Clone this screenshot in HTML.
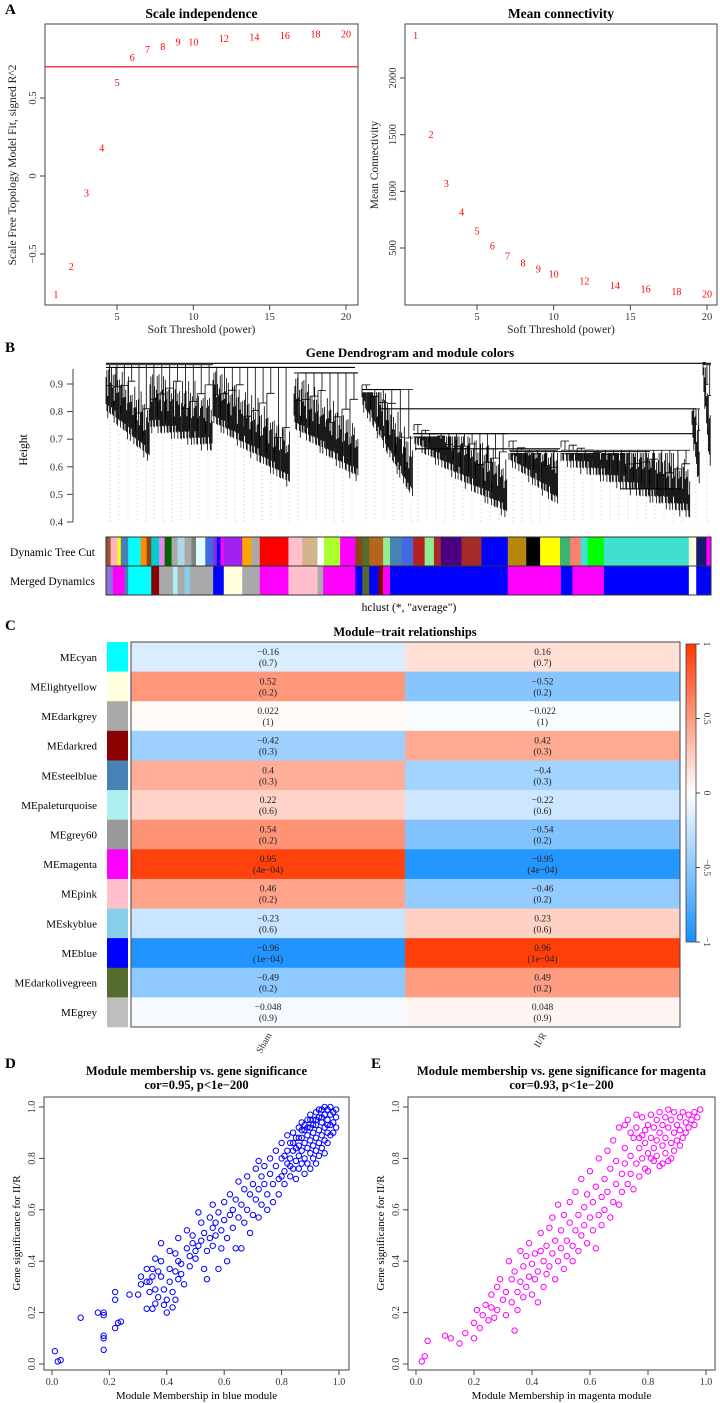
<!DOCTYPE html>
<html><head><meta charset="utf-8">
<style>
html,body{margin:0;padding:0;background:#fff;}
svg{display:block;font-family:"Liberation Serif","DejaVu Serif",serif;}
</style></head>
<body>
<svg id="fig" width="720" height="1403" viewBox="0 0 720 1403" xmlns="http://www.w3.org/2000/svg"></svg>
<script>
// ---------- DATA ----------
const powers = [1,2,3,4,5,6,7,8,9,10,12,14,16,18,20];
const scaleFitR2 = [-0.76,-0.58,-0.11,0.18,0.60,0.76,0.81,0.83,0.86,0.86,0.88,0.89,0.90,0.91,0.91];
const meanConn = [2377,1500,1070,816,649,518,430,368,316,272,210,167,140,114,96];
const r2Threshold = 0.7;
const scaleTicks = [-0.5,0,0.5];
const connTicks = [500,1000,1500,2000];
const powerTicks = [5,10,15,20];
const heightTicks = [0.4,0.5,0.6,0.7,0.8,0.9];

const modules = ["MEcyan","MElightyellow","MEdarkgrey","MEdarkred","MEsteelblue","MEpaleturquoise","MEgrey60","MEmagenta","MEpink","MEskyblue","MEblue","MEdarkolivegreen","MEgrey"];
const moduleColors = ["#00FFFF","#FFFFE0","#A9A9A9","#8B0000","#4682B4","#AFEEEE","#999999","#FF00FF","#FFC0CB","#87CEEB","#0000FF","#556B2F","#BEBEBE"];
const traits = ["Sham","II/R"];
const corSham = [-0.16,0.52,0.022,-0.42,0.4,0.22,0.54,0.95,0.46,-0.23,-0.96,-0.49,-0.048];
const corIR = [0.16,-0.52,-0.022,0.42,-0.4,-0.22,-0.54,-0.95,-0.46,0.23,0.96,0.49,0.048];
const pvals = ["0.7","0.2","1","0.3","0.3","0.6","0.2","4e−04","0.2","0.6","1e−04","0.2","0.9"];
const legendTicks = [1,0.5,0,-0.5,-1];

const dynSegs = [[0,10,"#A0522D"],[10,25,"#FFB6C1"],[25,32,"#FFFF00"],[32,48,"#4682B4"],[48,75,"#00FFFF"],[75,88,"#FF8C00"],[88,98,"#8B4513"],[98,115,"#00CED1"],[115,127,"#EE82EE"],[127,142,"#006400"],[142,155,"#A9A9A9"],[155,170,"#ADD8E6"],[170,185,"#A9A9A9"],[185,195,"#808080"],[195,215,"#E0FFFF"],[215,232,"#4169E1"],[232,240,"#8A2BE2"],[240,248,"#0000FF"],[248,255,"#FF00FF"],[255,295,"#A020F0"],[295,315,"#FFA500"],[315,333,"#A9A9A9"],[333,395,"#FF0000"],[395,425,"#FFC0CB"],[425,458,"#D2B48C"],[458,472,"#FFFFFF"],[472,507,"#ADFF2F"],[507,540,"#FF00FF"],[540,555,"#8B4513"],[555,570,"#556B2F"],[570,600,"#B5651D"],[600,615,"#90EE90"],[615,640,"#4682B4"],[640,665,"#4169E1"],[665,690,"#B22222"],[690,710,"#90EE90"],[710,725,"#A52A2A"],[725,770,"#4B0082"],[770,813,"#A52A2A"],[813,870,"#0000FF"],[870,910,"#B8860B"],[910,940,"#000000"],[940,983,"#FFFF00"],[983,1005,"#3CB371"],[1005,1028,"#FA8072"],[1028,1043,"#40E0D0"],[1043,1078,"#00FF00"],[1078,1262,"#40E0D0"],[1262,1278,"#FFFFE0"],[1278,1300,"#191970"],[1300,1310,"#FF00FF"]];
const mergedSegs = [[0,15,"#9370DB"],[15,40,"#FF00FF"],[40,48,"#4682B4"],[48,98,"#00FFFF"],[98,115,"#8B0000"],[115,145,"#A9A9A9"],[145,155,"#AFEEEE"],[155,170,"#A9A9A9"],[170,182,"#87CEEB"],[182,232,"#A9A9A9"],[232,255,"#0000FF"],[255,295,"#FFFFE0"],[295,333,"#A9A9A9"],[333,395,"#FF00FF"],[395,458,"#FFC0CB"],[458,470,"#A9A9A9"],[470,540,"#FF00FF"],[540,555,"#0000FF"],[555,570,"#556B2F"],[570,590,"#0000FF"],[590,600,"#8B0000"],[600,615,"#FF00FF"],[615,870,"#0000FF"],[870,950,"#FF00FF"],[950,985,"#FF00FF"],[985,1010,"#0000FF"],[1010,1040,"#FF00FF"],[1040,1078,"#FF00FF"],[1078,1262,"#0000FF"],[1262,1278,"#FFFFFF"],[1278,1310,"#0000FF"]];
// clusters: [x0, x1, topHeight, bottomLeft, bottomRight]
const dendroClusters = [[106,150,0.97,0.80,0.62],[150,213,0.97,0.74,0.66],[213,290,0.96,0.76,0.53],[294,358,0.94,0.74,0.55],[362,413,0.88,0.82,0.48],[414,507,0.72,0.68,0.42],[509,558,0.66,0.62,0.46],[561,690,0.66,0.62,0.42],[692,700,0.81,0.72,0.50],[703,711,0.97,0.90,0.55]];
const dendroMerges = [[106,711,0.975],[106,355,0.96],[300,358,0.94],[362,400,0.88],[380,696,0.81],[413,695,0.72],[415,560,0.665],[510,650,0.655],[620,682,0.52]];

const mmBlue = [0.01,0.02,0.03,0.10,0.16,0.18,0.18,0.18,0.18,0.18,0.22,0.22,0.22,0.23,0.24,0.27,0.30,0.31,0.31,0.33,0.33,0.33,0.34,0.34,0.35,0.35,0.35,0.36,0.36,0.36,0.37,0.37,0.38,0.38,0.38,0.39,0.39,0.40,0.40,0.41,0.41,0.41,0.42,0.42,0.43,0.43,0.43,0.44,0.44,0.44,0.45,0.45,0.46,0.47,0.47,0.48,0.48,0.49,0.49,0.50,0.50,0.51,0.51,0.52,0.52,0.53,0.53,0.54,0.54,0.55,0.55,0.56,0.56,0.56,0.57,0.57,0.58,0.58,0.59,0.59,0.60,0.60,0.61,0.61,0.62,0.62,0.63,0.63,0.64,0.64,0.65,0.65,0.66,0.66,0.67,0.67,0.68,0.68,0.69,0.69,0.70,0.70,0.71,0.71,0.72,0.72,0.72,0.73,0.73,0.74,0.74,0.75,0.75,0.76,0.76,0.77,0.77,0.78,0.78,0.79,0.79,
0.80,0.80,0.81,0.81,0.82,0.82,0.82,0.83,0.83,0.83,0.84,0.84,0.84,0.85,0.85,0.85,0.86,0.86,0.86,0.86,0.87,0.87,0.87,0.87,0.88,0.88,0.88,0.88,0.89,0.89,0.89,0.89,0.90,0.90,0.90,0.90,0.90,0.91,0.91,0.91,0.91,0.92,0.92,0.92,0.92,0.92,0.93,0.93,0.93,0.93,0.94,0.94,0.94,0.94,0.95,0.95,0.95,0.95,0.96,0.96,0.96,0.96,0.97,0.97,0.97,0.98,0.98,0.98,0.99,0.99,0.85,0.88,0.91,0.93,0.97,0.95,0.89,0.87,0.84,0.81,0.86,0.90,0.94,0.96,0.99,0.92,0.83,0.80];
const gsBlue = [0.05,0.01,0.015,0.18,0.20,0.19,0.20,0.11,0.10,0.055,0.28,0.25,0.14,0.16,0.165,0.27,0.27,0.34,0.31,0.32,0.215,0.37,0.28,0.32,0.34,0.37,0.215,0.235,0.41,0.29,0.26,0.36,0.34,0.47,0.40,0.29,0.23,0.25,0.20,0.37,0.44,0.32,0.22,0.28,0.36,0.43,0.25,0.49,0.40,0.33,0.35,0.39,0.31,0.45,0.52,0.42,0.38,0.47,0.50,0.44,0.41,0.59,0.46,0.48,0.55,0.37,0.51,0.44,0.33,0.57,0.49,0.53,0.62,0.46,0.55,0.50,0.37,0.59,0.52,0.45,0.56,0.63,0.49,0.40,0.58,0.66,0.53,0.60,0.45,0.64,0.57,0.71,0.62,0.45,0.68,0.55,0.60,0.73,0.66,0.51,0.70,0.58,0.64,0.76,0.79,0.68,0.57,0.73,0.62,0.70,0.77,0.66,0.60,0.74,0.80,0.70,0.63,0.77,0.83,0.72,0.66,
0.80,0.86,0.75,0.70,0.83,0.78,0.89,0.73,0.86,0.80,0.90,0.76,0.83,0.88,0.79,0.72,0.92,0.85,0.81,0.76,0.94,0.88,0.83,0.78,0.91,0.86,0.80,0.74,0.95,0.89,0.84,0.78,0.97,0.92,0.87,0.82,0.76,0.95,0.90,0.85,0.80,0.98,0.93,0.88,0.83,0.78,0.96,0.91,0.86,0.81,0.99,0.94,0.89,0.84,0.97,0.92,0.87,0.82,0.99,0.95,0.90,0.86,0.97,0.93,0.89,0.98,0.94,0.90,0.96,0.92,0.84,0.93,0.93,0.99,1.00,1.00,0.92,0.91,0.86,0.81,0.88,0.95,0.96,0.93,0.99,0.95,0.77,0.73];

const mmMag = [0.02,0.03,0.04,0.10,0.12,0.15,0.17,0.20,0.20,0.21,0.22,0.23,0.24,0.25,0.26,0.26,0.27,0.28,0.28,0.29,0.30,0.31,0.31,0.32,0.33,0.33,0.34,0.34,0.35,0.35,0.36,0.36,0.37,0.37,0.38,0.38,0.39,0.39,0.40,0.40,0.41,0.41,0.42,0.42,0.43,0.43,0.44,0.44,0.45,0.45,0.46,0.46,0.47,0.47,0.48,0.48,0.49,0.49,0.50,0.50,0.51,0.51,0.52,0.52,0.53,0.53,0.54,0.54,0.55,0.55,0.56,0.56,0.57,0.57,0.58,0.58,0.59,0.59,0.60,0.60,0.61,0.61,0.62,0.62,0.63,0.63,0.64,0.64,0.65,0.65,0.66,0.66,0.67,0.67,0.68,0.68,0.69,0.69,0.70,0.70,0.71,0.71,0.72,0.72,0.73,0.73,0.74,0.74,0.75,0.75,
0.76,0.76,0.77,0.77,0.78,0.78,0.78,0.79,0.79,0.80,0.80,0.80,0.81,0.81,0.82,0.82,0.82,0.83,0.83,0.83,0.84,0.84,0.84,0.85,0.85,0.86,0.86,0.86,0.87,0.87,0.87,0.88,0.88,0.89,0.89,0.89,0.90,0.90,0.91,0.91,0.92,0.92,0.93,0.93,0.94,0.94,0.95,0.96,0.96,0.97,0.98,0.79,0.81,0.85,0.88,0.91,0.77,0.74,0.72,0.76];
const gsMag = [0.01,0.03,0.09,0.11,0.10,0.08,0.12,0.10,0.16,0.21,0.14,0.19,0.23,0.17,0.22,0.27,0.18,0.21,0.30,0.33,0.25,0.19,0.28,0.40,0.24,0.33,0.13,0.36,0.28,0.21,0.44,0.32,0.26,0.38,0.30,0.42,0.34,0.47,0.27,0.39,0.43,0.33,0.36,0.24,0.44,0.51,0.30,0.40,0.46,0.35,0.53,0.38,0.43,0.57,0.33,0.48,0.62,0.40,0.45,0.52,0.37,0.58,0.48,0.42,0.55,0.63,0.46,0.40,0.67,0.52,0.58,0.44,0.72,0.50,0.61,0.54,0.47,0.66,0.57,0.75,0.52,0.63,0.69,0.45,0.58,0.80,0.65,0.54,0.72,0.60,0.83,0.67,0.57,0.76,0.63,0.87,0.70,0.79,0.62,0.92,0.74,0.67,0.84,0.78,0.70,0.95,0.81,0.74,0.88,0.68,
0.78,0.92,0.84,0.73,0.89,0.80,0.96,0.76,0.86,0.93,0.82,0.75,0.88,0.97,0.84,0.79,0.92,0.95,0.87,0.81,0.90,0.98,0.77,0.85,0.93,0.96,0.88,0.82,0.92,0.99,0.79,0.86,0.95,0.90,0.98,0.83,0.93,0.87,0.96,0.91,0.98,0.88,0.94,0.90,0.97,0.92,0.95,0.98,0.93,0.96,0.99,0.91,0.80,0.78,0.80,0.85,0.88,0.90,0.93,0.97];

// ---------- HELPERS ----------
const NS = "http://www.w3.org/2000/svg";
const svg = document.getElementById("fig");
function mk(tag, attrs, parent, text){
  const e = document.createElementNS(NS, tag);
  for (const k in attrs) e.setAttribute(k, attrs[k]);
  if (text !== undefined) e.textContent = text;
  (parent || svg).appendChild(e);
  return e;
}
function lin(d0,d1,r0,r1){ return v => r0 + (v-d0)*(r1-r0)/(d1-d0); }
function fmt(v){ return (v<0?"−":"") + Math.abs(v); }

// ---------- PANEL A ----------
let t;
t = mk("text",{x:5,y:14,"font-size":15,"font-weight":"bold"},svg,"A");
 

function panelA(opts){
  const g = mk("g",{});
  
  
  const {x0,x1,y0,y1} = opts;
  const xs = lin(5,20,opts.px5,opts.px20);
  const ys = opts.ys;
  let e;
  e = mk("rect",{x:x0,y:y0,width:x1-x0,height:y1-y0,fill:"none",stroke:"#444","stroke-width":1},g);
   
  e = mk("text",{x:(x0+x1)/2,y:18,"text-anchor":"middle","font-size":13.5,"font-weight":"bold"},g,opts.title);
   
  powerTicks.forEach(p=>{
    mk("line",{x1:xs(p),x2:xs(p),y1:y1,y2:y1+5,stroke:"#444"},g);
    e = mk("text",{x:xs(p),y:320,"text-anchor":"middle","font-size":10.5,fill:"#333"},g,String(p));
     
  });
  e = mk("text",{x:(x0+x1)/2,y:333,"text-anchor":"middle","font-size":11.5,fill:"#222"},g,"Soft Threshold (power)");
   
  opts.yTicks.forEach(v=>{
    mk("line",{x1:x0,x2:x0-5,y1:ys(v),y2:ys(v),stroke:"#444"},g);
    e = mk("text",{x:x0-9,y:ys(v),"text-anchor":"middle","font-size":10.5,fill:"#333",transform:`rotate(-90 ${x0-9} ${ys(v)})`},g,fmt(v));
     
  });
  const ly = 165;
  e = mk("text",{x:opts.ylabX,y:ly,"text-anchor":"middle","font-size":11.5,fill:"#222",transform:`rotate(-90 ${opts.ylabX} ${ly})`},g,opts.ylab);
   
  if (opts.hline !== undefined){
    e = mk("line",{x1:x0,x2:x1,y1:ys(opts.hline),y2:ys(opts.hline),stroke:"#FF0000","stroke-width":1.2},g);
     
  }
  powers.forEach((p,i)=>{
    const pt = mk("text",{x:xs(p),y:ys(opts.vals[i])+3.5,"text-anchor":"middle","font-size":10,fill:"#FF0000"},g,String(p));
    
    
  });
}
panelA({name:"scale-independence-plot",title:"Scale independence",x0:45,x1:358,y0:24,y1:305,px5:117,px20:346,
  ys:lin(0,0.5,176,98),yTicks:scaleTicks,vals:scaleFitR2,hline:r2Threshold,ylab:"Scale Free Topology Model Fit, signed R^2",ylabX:16});
panelA({name:"mean-connectivity-plot",title:"Mean connectivity",x0:405,x1:717,y0:24,y1:305,px5:477,px20:707,
  ys:lin(500,2000,248,78),yTicks:connTicks,vals:meanConn,ylab:"Mean Connectivity",ylabX:378});

// ---------- PANEL B ----------
t = mk("text",{x:5,y:352,"font-size":15,"font-weight":"bold"},svg,"B");
 
const gB = mk("g",{});
 
t = mk("text",{x:410,y:357,"text-anchor":"middle","font-size":13,"font-weight":"bold"},gB,"Gene Dendrogram and module colors");
 
const hy = lin(0.4,0.9,522,384);
mk("line",{x1:73,x2:73,y1:hy(0.4),y2:hy(0.955),stroke:"#444"},gB);
heightTicks.forEach(h=>{
  mk("line",{x1:73,x2:67,y1:hy(h),y2:hy(h),stroke:"#444"},gB);
  const e = mk("text",{x:63,y:hy(h)+3.5,"text-anchor":"end","font-size":10.5,fill:"#333"},gB,h.toFixed(1));
   
});
t = mk("text",{x:27,y:450,"text-anchor":"middle","font-size":11.5,transform:"rotate(-90 27 450)"},gB,"Height");
 

const dots = mk("g",{stroke:"#bbb","stroke-width":0.8,"stroke-dasharray":"1 3"},gB);
 
const dg = mk("g",{stroke:"#000","stroke-width":0.8,fill:"none"},gB);
 
dendroClusters.forEach(c=>{
  const [x0,x1,top,bL,bR] = c;
  const w = x1-x0;
  let d = "";
  for (let x=x0; x<=x1; x+=0.9){
    const f = (x-x0)/Math.max(w,1);
    const k = Math.round(x*10);
    const jag = ((k*7)%11)/11*0.05 - ((k*3)%5)/5*0.02;
    const bottom = bL + (bR-bL)*f + jag;
    const inner = Math.min(top-0.01, bottom + 0.08 + ((k*5)%7)/7*0.12);
    d += `M${x.toFixed(1)} ${hy(bottom).toFixed(1)}V${hy(inner).toFixed(1)}`;
  }
  const n = Math.max(3, Math.round(w/8));
  for (let j=0;j<n;j++){
    const f0 = j/n, f1=(j+1)/n;
    const bb = bL+(bR-bL)*f0;
    const hh = bb + 0.08 + (top-bb-0.08)*(((j*5)%4)+1)/6;
    d += `M${(x0+w*f0).toFixed(1)} ${hy(hh).toFixed(1)}H${(x0+w*f1).toFixed(1)}`;
    d += `M${(x0+w*f0).toFixed(1)} ${hy(bb+0.05).toFixed(1)}V${hy(Math.max(hh,bb)).toFixed(1)}`;
    d += `M${(x0+w*(f0+f1)/2).toFixed(1)} ${hy(hh).toFixed(1)}V${hy(top).toFixed(1)}`;
  }
  d += `M${x0} ${hy(top)}H${x1}`;
  mk("path",{d:d},dg);
  for (let gx = x0+4; gx < x1; gx += 9){
    const f = (gx-x0)/Math.max(w,1);
    const b = bL + (bR-bL)*f;
    mk("line",{x1:gx,x2:gx,y1:hy(b)+4,y2:522},dots);
  }
});
dendroMerges.forEach(m=>{
  const e = mk("line",{x1:m[0],x2:m[1],y1:hy(m[2]),y2:hy(m[2]),stroke:"#000","stroke-width":1.1},dg);
   
});
const leafX = lin(0,1310,106,711);
function colorBar(segs, y, h, name){
  const g = mk("g",{},gB);
   
  segs.forEach(s=>{
    mk("rect",{x:leafX(s[0]),y:y,width:leafX(s[1])-leafX(s[0])+0.3,height:h,fill:s[2]},g);
  });
  mk("rect",{x:106,y:y,width:605,height:h,fill:"none",stroke:"#333","stroke-width":1},g);
}
colorBar(dynSegs,537,29,"dynamic-tree-cut-bar");
colorBar(mergedSegs,566,29,"merged-dynamics-bar");
t = mk("text",{x:95,y:556,"text-anchor":"end","font-size":11.5},gB,"Dynamic Tree Cut");
 
t = mk("text",{x:95,y:585,"text-anchor":"end","font-size":11.5},gB,"Merged Dynamics");
 
t = mk("text",{x:409,y:611,"text-anchor":"middle","font-size":11.5},gB,'hclust (*, "average")');
 

// ---------- PANEL C ----------
t = mk("text",{x:5,y:630,"font-size":15,"font-weight":"bold"},svg,"C");
 
const gC = mk("g",{});
 
t = mk("text",{x:405,y:636,"text-anchor":"middle","font-size":12.5,"font-weight":"bold"},gC,"Module−trait relationships");
 
function corColor(v){
  if (v>=0) return `rgb(255,${Math.round(255-200*v)},${Math.round(255-255*v)})`;
  const a=-v; return `rgb(${Math.round(255-231*a)},${Math.round(255-111*a)},255)`;
}
const rowH = (1027-642)/modules.length;
const colX = [131,405,680];
modules.forEach((m,i)=>{
  const y = 642 + i*rowH;
  let e = mk("rect",{x:107,y:y,width:21,height:rowH+0.3,fill:moduleColors[i]},gC);
   
  e = mk("text",{x:97,y:y+rowH/2+4,"text-anchor":"end","font-size":11},gC,m);
   
  [corSham,corIR].forEach((arr,j)=>{
    const c = mk("rect",{x:colX[j],y:y,width:colX[j+1]-colX[j]+0.3,height:rowH+0.3,fill:corColor(arr[i])},gC);
    
    
    const cx = (colX[j]+colX[j+1])/2;
    const t1 = mk("text",{x:cx,y:y+rowH/2-2,"text-anchor":"middle","font-size":9.5,fill:"#222"},gC,fmt(arr[i]));
    
    
    const t2 = mk("text",{x:cx,y:y+rowH/2+9,"text-anchor":"middle","font-size":9.5,fill:"#222"},gC,"("+pvals[i]+")");
    
    
  });
});
mk("rect",{x:131,y:642,width:549,height:385,fill:"none",stroke:"#444","stroke-width":1},gC);
traits.forEach((tr,j)=>{
  const cx = (colX[j]+colX[j+1])/2 + 4;
  const e = mk("text",{x:cx,y:1035,"text-anchor":"end","font-size":9.5,fill:"#333",transform:`rotate(-60 ${cx} 1035)`},gC,tr);
   
});
const defs = mk("defs",{});
const grad = mk("linearGradient",{id:"cbar",x1:0,y1:0,x2:0,y2:1},defs);
[[0,1],[0.25,0.5],[0.5,0],[0.75,-0.5],[1,-1]].forEach(s=>mk("stop",{offset:s[0],"stop-color":corColor(s[1])},grad));
const ly = lin(1,-1,644,942);
t = mk("rect",{x:686,y:644,width:10,height:298,fill:"url(#cbar)",stroke:"#444","stroke-width":0.8},gC);
 
legendTicks.forEach(v=>{
  mk("line",{x1:696,x2:700,y1:ly(v),y2:ly(v),stroke:"#444"},gC);
  const e = mk("text",{x:704,y:ly(v),"text-anchor":"middle","font-size":9.5,fill:"#333",transform:`rotate(90 704 ${ly(v)})`},gC,fmt(v));
   
});

// ---------- PANELS D & E ----------
function scatter(o){
  const g = mk("g",{});
   
  const xs = lin(0,1,o.px0,o.px1), ys = lin(0,1,1364,1107);
  let e = mk("text",{x:o.lx,y:1068,"font-size":15,"font-weight":"bold"},g,o.letter);
   
  const cx = (o.x0+o.x1)/2;
  e = mk("text",{x:cx,y:1075,"text-anchor":"middle","font-size":12.5,"font-weight":"bold"},g,o.title);
   
  e = mk("text",{x:cx,y:1089,"text-anchor":"middle","font-size":12.5,"font-weight":"bold"},g,o.sub);
   
  mk("rect",{x:o.x0,y:1097,width:o.x1-o.x0,height:273,fill:"none",stroke:"#444"},g);
  const ticks=[0,0.2,0.4,0.6,0.8,1.0];
  ticks.forEach(v=>{
    mk("line",{x1:xs(v),x2:xs(v),y1:1370,y2:1375,stroke:"#444"},g);
    let a = mk("text",{x:xs(v),y:1385,"text-anchor":"middle","font-size":10,fill:"#333"},g,v.toFixed(1));
     
    mk("line",{x1:o.x0,x2:o.x0-5,y1:ys(v),y2:ys(v),stroke:"#444"},g);
    a = mk("text",{x:o.x0-9,y:ys(v),"text-anchor":"middle","font-size":10,fill:"#333",transform:`rotate(-90 ${o.x0-9} ${ys(v)})`},g,v.toFixed(1));
     
  });
  e = mk("text",{x:cx,y:1399,"text-anchor":"middle","font-size":11},g,o.xlab);
   
  const yl=1233, xl=o.x0-24;
  e = mk("text",{x:xl,y:yl,"text-anchor":"middle","font-size":11,transform:`rotate(-90 ${xl} ${yl})`},g,"Gene significance for II/R");
   
  const pts = mk("g",{fill:"none",stroke:o.color,"stroke-width":1},g);
  o.mm.forEach((m,i)=>{
    const c = mk("circle",{cx:xs(m),cy:ys(o.gs[i]),r:2.7},pts);
    
    
  });
}
scatter({name:"mm-gs-blue-scatter",letter:"D",lx:5,title:"Module membership vs. gene significance",sub:"cor=0.95, p<1e−200",
  x0:44,x1:349,px0:52,px1:339,mm:mmBlue,gs:gsBlue,color:"#0000FF",xlab:"Module Membership in blue module"});
scatter({name:"mm-gs-magenta-scatter",letter:"E",lx:371,title:"Module membership vs. gene significance for magenta",sub:"cor=0.93, p<1e−200",
  x0:408,x1:715,px0:416,px1:706,mm:mmMag,gs:gsMag,color:"#FF00FF",xlab:"Module Membership in magenta module"});
</script>
</body></html>
